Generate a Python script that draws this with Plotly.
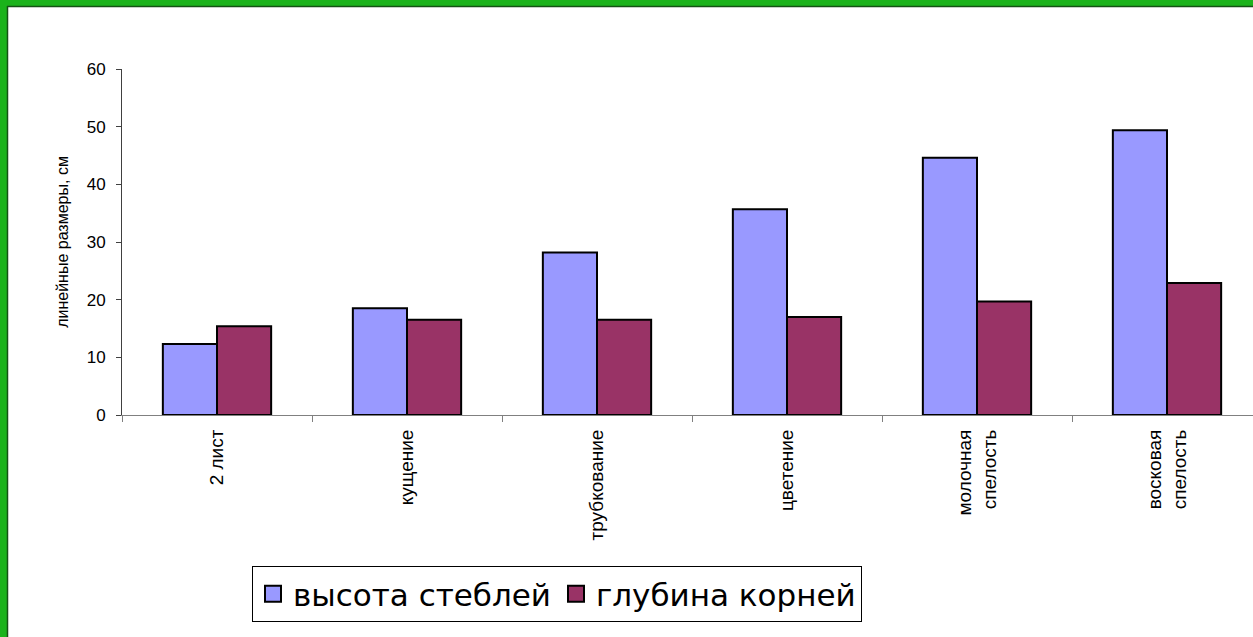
import plotly.graph_objects as go

categories = ["2 лист", "кущение", "трубкование", "цветение", "молочная<br>спелость", "восковая<br>спелость"]
stem_height = [12.3, 18.5, 28.2, 35.7, 44.6, 49.4]
root_depth = [15.4, 16.5, 16.5, 17.0, 19.7, 22.9]
series_names = ["высота стеблей", "глубина корней"]
colors = ["#9999ff", "#993366"]
y_ticks = [0, 10, 20, 30, 40, 50, 60]

W, H = 1253, 637
L, R, T, B = 122, 0, 69, 222
pw = W - L - R
ph = H - T - B

def px_x(px):
    return (px - L) / pw

def px_y(py):
    return (H - B - py) / ph

fig = go.Figure()
for name, vals, col in zip(series_names, [stem_height, root_depth], colors):
    fig.add_bar(x=categories, y=vals, name=name, showlegend=False,
                marker=dict(color=col, line=dict(color="black", width=2)))
# legend entries with larger square symbols
for name, col in zip(series_names, colors):
    fig.add_scatter(x=[None], y=[None], mode="markers", name=name,
                    marker=dict(symbol="square", size=16, color=col,
                                line=dict(color="black", width=2)))

green = "#1bb31b"
fig.add_shape(type="rect", xref="paper", yref="paper",
              x0=px_x(0), x1=px_x(7), y0=px_y(H), y1=px_y(0),
              fillcolor=green, line=dict(width=0), layer="below")
fig.add_shape(type="rect", xref="paper", yref="paper",
              x0=px_x(0), x1=px_x(W), y0=px_y(6), y1=px_y(0),
              fillcolor=green, line=dict(width=0), layer="below")
fig.add_shape(type="line", xref="paper", yref="paper",
              x0=px_x(7.5), x1=px_x(7.5), y0=px_y(H), y1=px_y(6),
              line=dict(color="#145214", width=1.5))
fig.add_shape(type="line", xref="paper", yref="paper",
              x0=px_x(7), x1=px_x(W), y0=px_y(6.5), y1=px_y(6.5),
              line=dict(color="#145214", width=1.5))

fig.update_layout(
    width=W, height=H,
    margin=dict(l=L, r=R, t=T, b=B, pad=0),
    paper_bgcolor="white", plot_bgcolor="white",
    barmode="group", bargap=0.43, bargroupgap=0,
    font=dict(family="Liberation Sans, Arial, sans-serif", color="black"),
    showlegend=True,
    legend=dict(orientation="h", x=px_x(252), y=px_y(566), xanchor="left", yanchor="top",
                bordercolor="black", borderwidth=1, bgcolor="white",
                font=dict(size=31, family="DejaVu Sans, Liberation Sans, Arial"),
                itemwidth=30, traceorder="normal", tracegroupgap=0),
    xaxis=dict(range=[-0.5, -0.5 + pw / 190.0], showline=True, linecolor="#808080", linewidth=1,
               ticks="outside", tickson="boundaries", ticklen=6, tickcolor="#808080",
               tickangle=-90, tickfont=dict(size=19), ticklabelstandoff=6,
               showgrid=False, zeroline=False, fixedrange=True),
    yaxis=dict(range=[0, 60], tickvals=y_ticks, showline=True, linecolor="#404040", linewidth=1,
               ticks="outside", ticklen=5, tickcolor="#404040", tickfont=dict(size=17),
               ticklabelstandoff=7, showgrid=False, zeroline=False,
               title=dict(text="линейные размеры, см", font=dict(size=16), standoff=14)),
)

fig.write_html("out.html")
